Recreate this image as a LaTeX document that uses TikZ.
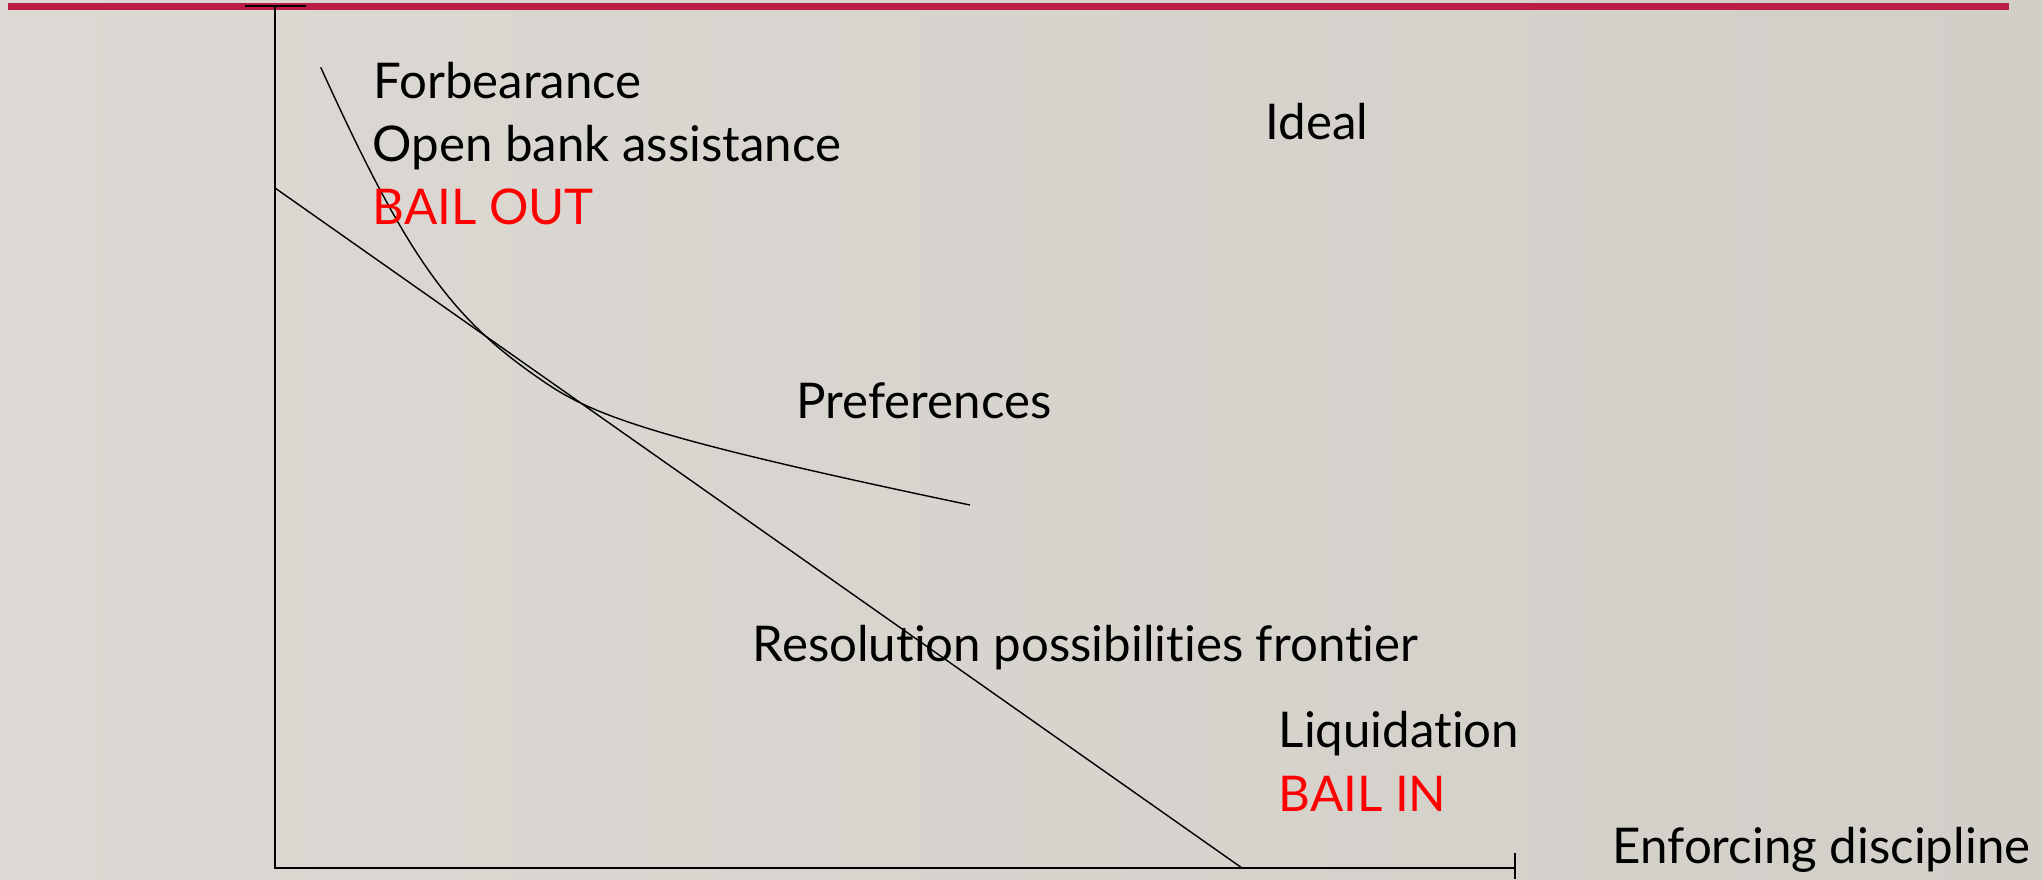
\documentclass[tikz,border=0pt]{standalone}
\usepackage{fontspec}
\setmainfont{Lato}[Ligatures=NoCommon]
\usepackage{tikz,color}

\definecolor{barred}{RGB}{186,30,68}
\definecolor{bgmid}{RGB}{233,231,227}
\definecolor{bgleft}{RGB}{220,217,212}
\definecolor{bgright}{RGB}{210,207,201}
\definecolor{hotred}{RGB}{255,0,0}

\tikzset{lbl/.style={anchor=base west, inner sep=0pt, font=\fontsize{14}{17}\selectfont},
         redlbl/.style={lbl, text=hotred}}

\begin{document}
\begin{tikzpicture}[x=0.01cm,y=-0.01cm]
\shade [left color=bgleft, middle color=bgmid, right color=bgright] (0,0) rectangle (2043,879);
\useasboundingbox (0,0) rectangle (2043,879);
\draw [barred, line width=1.9pt] (8,6.7) to (2009,6.7);

% axes
\coordinate (ytop) at (275,6);
\coordinate (O) at (275,868);
\coordinate (xend) at (1515,868);
\draw [thin] (245,6) to (306,6);
\draw [thin] (ytop) to (O) to (xend);
\draw [thin] (1515,853) to (1515,879);

% frontier and preferences
\coordinate (fy) at (275,188);
\coordinate (fx) at (1242,868);
\draw [thin] (fy) to (fx);
\coordinate (p0) at (320.7,67.3);
\coordinate (p1) at (970,505);
\draw [thin] (p0) .. controls (406,254.9) and (449.8,317.2) .. (540,379)
                  .. controls (590.7,414.7) and (647.6,437.4) .. (p1);

\node [lbl] (forbearance) at (373,98.3) {Forbearance};
\node [lbl] (openbank) at (372,161.7) {Open bank assistance};
\node [redlbl] (bailout) at (372,225) {BAIL OUT};
\node [lbl] (ideal) at (1265,139.3) {Ideal};
\node [lbl] (prefs) at (796,418.3) {Preferences};
\node [lbl] (frontier) at (752,661) {Resolution possibilities frontier};
\node [lbl] (liquidation) at (1278,747.6) {Liquidation};
\node [redlbl] (bailin) at (1278,811) {BAIL IN};
\node [lbl] (xlabel) at (1612,863) {Enforcing discipline};

\end{tikzpicture}
\end{document}
